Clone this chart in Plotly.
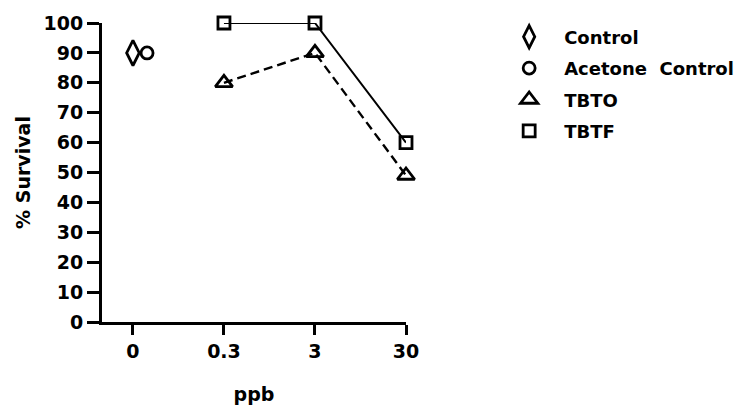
import plotly.graph_objects as go

# ---- data ----
dose_labels = ["0", "0.3", "3", "30"]
dose_index = [0, 1, 2, 3]

control_x = [0]
control_y = [90]
acetone_x = [0]
acetone_y = [90]

tbto_x = [1, 2, 3]
tbto_y = [80, 90, 49]
tbtf_x = [1, 2, 3]
tbtf_y = [100, 100, 60]

y_ticks = [0, 10, 20, 30, 40, 50, 60, 70, 80, 90, 100]

# ---- styling ----
FONT = "DejaVu Sans"
BLACK = "black"
CTRL_OFFSET = 0.0
ACET_OFFSET = 0.155

fig = go.Figure()

# line traces (no legend)
fig.add_trace(go.Scatter(x=tbtf_x, y=tbtf_y, mode="lines", showlegend=False,
                         line=dict(color=BLACK, width=2), cliponaxis=False, hoverinfo="skip"))
fig.add_trace(go.Scatter(x=tbto_x, y=tbto_y, mode="lines", showlegend=False,
                         line=dict(color=BLACK, width=2.4, dash="9px,5px"), cliponaxis=False, hoverinfo="skip"))

mk_line = dict(color=BLACK, width=2.8)
fig.add_trace(go.Scatter(x=[v + CTRL_OFFSET for v in control_x], y=control_y, mode="markers", name="Control",
                         legendgroup="g1",
                         marker=dict(symbol="diamond-tall-open", size=18, color=BLACK, line=mk_line),
                         cliponaxis=False))
fig.add_trace(go.Scatter(x=[v + ACET_OFFSET for v in acetone_x], y=acetone_y, mode="markers",
                         name="Acetone  Control", legendgroup="g2",
                         marker=dict(symbol="circle-open", size=12, color=BLACK, line=mk_line),
                         cliponaxis=False))
fig.add_trace(go.Scatter(x=tbto_x, y=tbto_y, mode="markers", name="TBTO", legendgroup="g3",
                         marker=dict(symbol="triangle-up-open", size=15, color=BLACK, line=mk_line),
                         cliponaxis=False))
fig.add_trace(go.Scatter(x=tbtf_x, y=tbtf_y, mode="markers", name="TBTF", legendgroup="g4",
                         marker=dict(symbol="square-open", size=12, color=BLACK, line=mk_line),
                         cliponaxis=False))

fig.update_layout(
    width=747, height=405,
    margin=dict(l=102, r=341, t=23, b=83, autoexpand=False),
    paper_bgcolor="white", plot_bgcolor="white",
    font=dict(family=FONT, color=BLACK, size=18, weight="bold"),
    showlegend=True,
    legend=dict(x=1.29, y=1.015, xanchor="left", yanchor="top",
                font=dict(family=FONT, size=18, color=BLACK, weight="bold"),
                bgcolor="rgba(0,0,0,0)", tracegroupgap=5, itemwidth=60, itemsizing="trace"),
    xaxis=dict(range=[-0.34, 3], tickmode="array", tickvals=dose_index, ticktext=dose_labels,
               automargin=False,
               showgrid=False, zeroline=False, showline=True, linecolor=BLACK, linewidth=3,
               ticks="outside", ticklen=10, tickwidth=3, tickcolor=BLACK,
               tickfont=dict(family=FONT, size=19, weight="bold"),
               title=dict(text="ppb", font=dict(family=FONT, size=19, weight="bold"), standoff=30)),
    yaxis=dict(range=[0, 100], tickmode="array", tickvals=y_ticks,
               automargin=False,
               showgrid=False, zeroline=False, showline=True, linecolor=BLACK, linewidth=3,
               ticks="outside", ticklen=12, tickwidth=3, tickcolor=BLACK,
               tickfont=dict(family=FONT, size=19, weight="bold"),
               title=dict(text="% Survival", font=dict(family=FONT, size=19, weight="bold"), standoff=8)),
)

fig.write_html("out.html")
